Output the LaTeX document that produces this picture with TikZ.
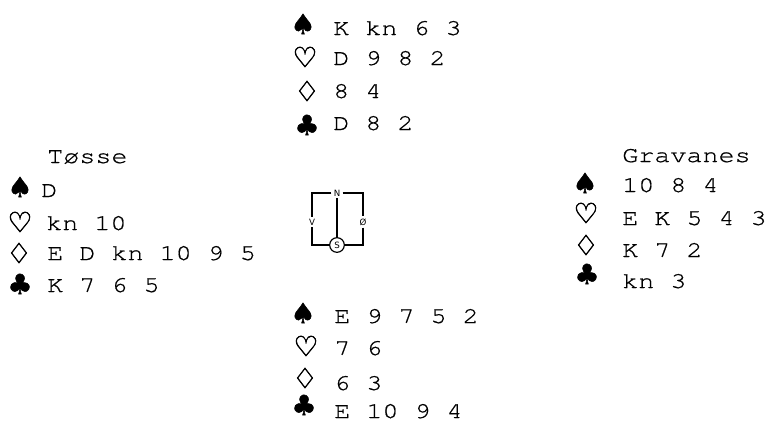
\documentclass[tikz,border=0pt]{standalone}
\usepackage{fontspec}
\newfontfamily\suitfont[FakeBold=1.8]{DejaVu Sans}
\newfontfamily\compfont{DejaVu Sans}
\newfontfamily\cardfont[FakeStretch=1.18,FakeBold=0.7,Extension=.otf]{texgyrecursor-regular}
\begin{document}
\begin{tikzpicture}[x=0.75pt,y=-0.75pt,
  hand/.style={anchor=base west,inner sep=0pt,font=\cardfont\fontsize{17pt}{17pt}\selectfont},
  suit/.style={anchor=center,inner sep=0pt,font=\suitfont\fontsize{21pt}{21pt}\selectfont},
  dir/.style={inner sep=1.5pt,font=\compfont\fontsize{6.5pt}{7pt}\selectfont},
  boxline/.style={line width=0.9pt}]
\useasboundingbox (0,0) rectangle (767,421);
% North
\node[suit] (ns) at (303,24) {♠};
\node[hand] (nst) at (333,35) {K kn 6 3};
\node[suit] (nh) at (305,57) {♡};
\node[hand] (nht) at (333,65) {D 9 8 2};
\node[suit] (nd) at (307,91) {♢};
\node[hand] (ndt) at (333,98) {8 4};
\node[suit] (nc) at (307,125) {♣};
\node[hand] (nct) at (333,130) {D 8 2};
% West
\node[hand] (wn) at (47,163) {Tøsse};
\node[suit] (ws) at (20,187) {♠};
\node[hand] (wst) at (41,197) {D};
\node[suit] (wh) at (20,222) {♡};
\node[hand] (wht) at (46,230) {kn 10};
\node[suit] (wd) at (19,253) {♢};
\node[hand] (wdt) at (47,260) {E D kn 10 9 5};
\node[suit] (wc) at (20,284) {♣};
\node[hand] (wct) at (47,292) {K 7 6 5};
% East
\node[hand] (en) at (622,162) {Gravanes};
\node[suit] (es) at (585,183) {♠};
\node[hand] (est) at (622,192) {10 8 4};
\node[suit] (eh) at (586,213) {♡};
\node[hand] (eht) at (622,225) {E K 5 4 3};
\node[suit] (ed) at (586,245) {♢};
\node[hand] (edt) at (622,257) {K 7 2};
\node[suit] (ec) at (587,274) {♣};
\node[hand] (ect) at (622,288) {kn 3};
% South
\node[suit] (ss) at (303,313) {♠};
\node[hand] (sst) at (334,323) {E 9 7 5 2};
\node[suit] (sh) at (306,346) {♡};
\node[hand] (sht) at (334,355) {7 6};
\node[suit] (sd) at (305,378) {♢};
\node[hand] (sdt) at (334,390) {6 3};
\node[suit] (sc) at (304,405) {♣};
\node[hand] (sct) at (334,418) {E 10 9 4};
% Compass
\node[dir] (N) at (337,193) {N};
\node[dir,circle,draw,line width=0.9pt,inner sep=0.8pt,minimum size=11pt] (S) at (337,245) {S};
\node[dir] (V) at (312,222) {V};
\node[dir] (O) at (363,222) {Ø};
\draw[boxline] (N.west) -| (V.north);
\draw[boxline] (N.east) -| (O.north);
\draw[boxline] (V.south) |- (S.west);
\draw[boxline] (O.south) |- (S.east);
\draw[line width=1.4pt] (N.south) -- (S.north);
\end{tikzpicture}
\end{document}
